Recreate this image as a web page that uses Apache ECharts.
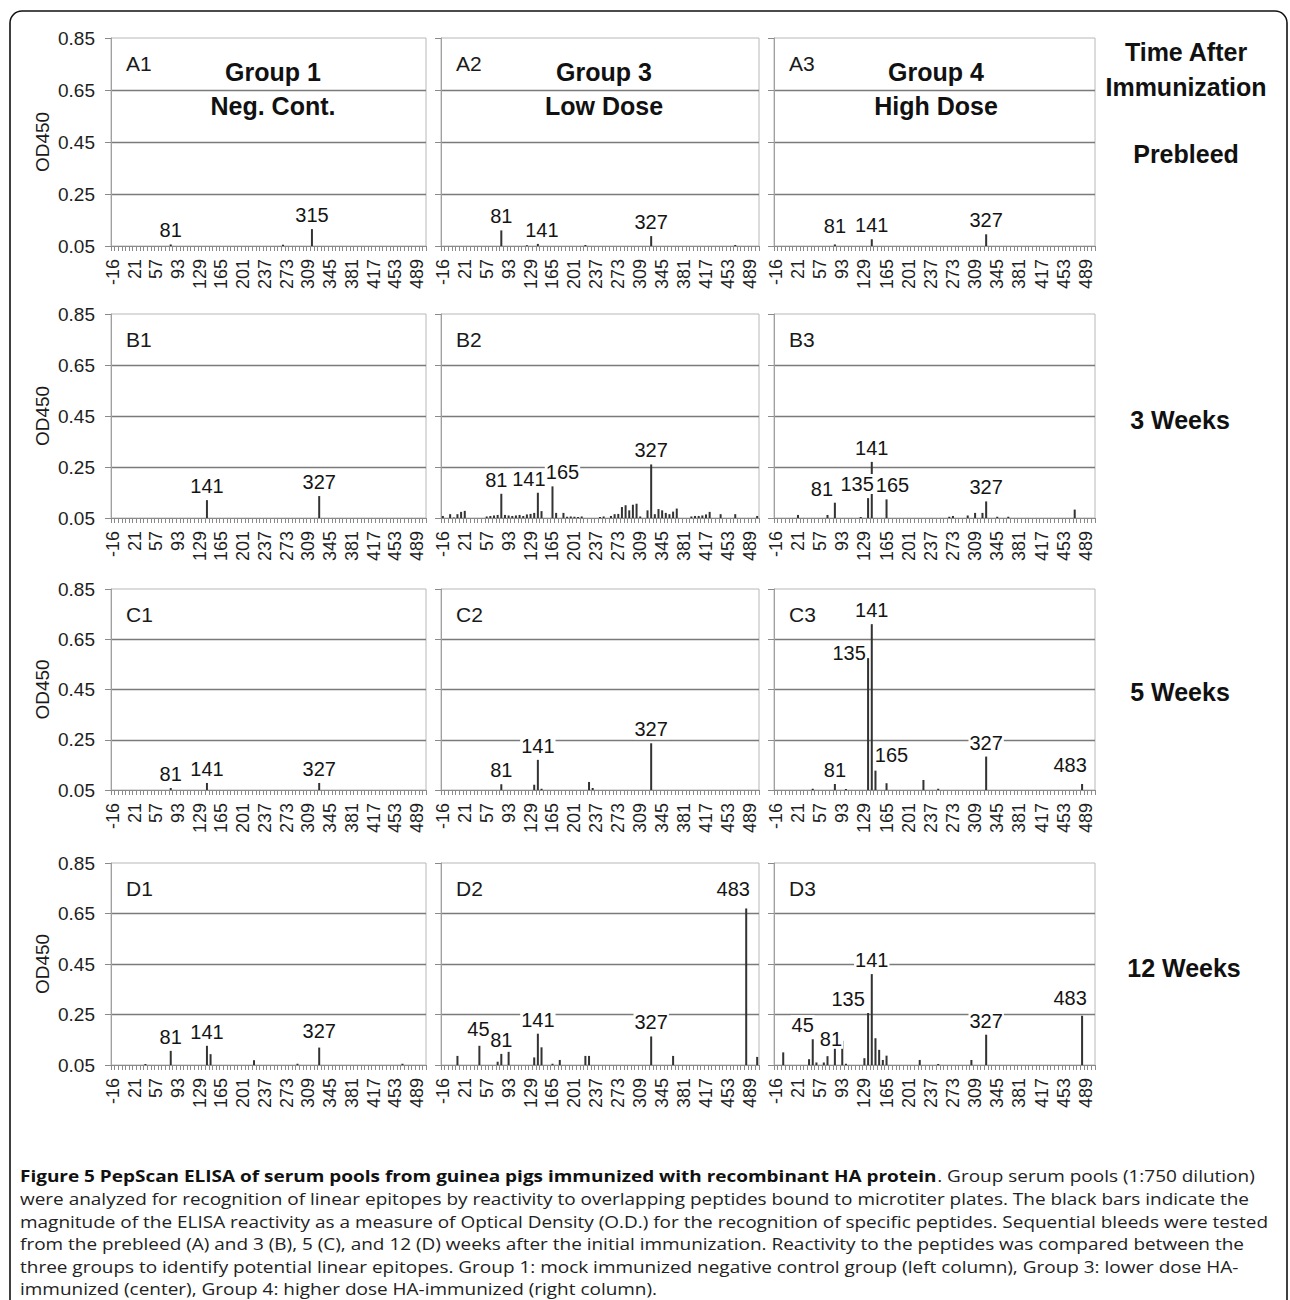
<!DOCTYPE html>
<html><head><meta charset="utf-8">
<script src="https://cdn.jsdelivr.net/npm/echarts@6/dist/echarts.min.js"></script>
<style>html,body{margin:0;padding:0;background:#fff}#c{width:1290px;height:1300px}</style>
</head><body><div id="c"></div>
<script>
// Peptide start positions (x categories)
const positions = [-16,-10,-4,3,9,15,21,27,33,39,45,51,57,63,69,75,81,87,93,99,105,111,117,123,129,135,141,147,153,159,165,171,177,183,189,195,201,207,213,219,225,231,237,243,249,255,261,267,273,279,285,291,297,303,309,315,321,327,333,339,345,351,357,363,369,375,381,387,393,399,405,411,417,423,429,435,441,447,453,459,465,471,477,483,489,495,501];
const yTicks = [0.05,0.25,0.45,0.65,0.85];

// OD450 values per panel (87 peptides each)
const valsA1 = [
.05,.05,.05,.05,.05,.05,.05,.05,.05,.05,
.05,.05,.05,.05,.05,.05,.056,.05,.05,.05,
.05,.05,.05,.05,.05,.05,.05,.05,.05,.05,
.05,.05,.05,.05,.05,.05,.05,.05,.05,.05,
.05,.05,.05,.05,.05,.05,.05,.055,.05,.05,
.05,.05,.05,.05,.05,.115,.05,.05,.05,.05,
.05,.05,.05,.05,.05,.05,.05,.05,.05,.05,
.05,.05,.05,.05,.05,.05,.05,.05,.05,.05,
.05,.05,.05,.05,.05,.05,.05];
const valsA2 = [
.05,.05,.05,.05,.05,.05,.05,.05,.05,.05,
.05,.05,.05,.05,.05,.05,.11,.05,.05,.05,
.05,.05,.05,.053,.05,.05,.058,.05,.05,.05,
.05,.05,.05,.05,.05,.05,.05,.05,.05,.054,
.05,.05,.05,.05,.05,.05,.05,.05,.05,.05,
.05,.05,.05,.05,.05,.05,.05,.088,.05,.05,
.05,.05,.05,.05,.05,.05,.05,.05,.05,.05,
.05,.05,.05,.05,.05,.05,.05,.05,.05,.05,
.054,.05,.05,.05,.05,.05,.05];
const valsA3 = [
.05,.05,.05,.05,.05,.05,.05,.05,.05,.05,
.05,.05,.05,.05,.05,.05,.056,.05,.05,.05,
.05,.05,.05,.05,.05,.05,.076,.05,.05,.05,
.05,.05,.05,.05,.05,.05,.05,.05,.05,.05,
.05,.05,.05,.05,.05,.05,.05,.05,.05,.05,
.05,.05,.05,.05,.05,.05,.05,.095,.05,.05,
.05,.05,.05,.05,.05,.05,.05,.05,.05,.05,
.05,.05,.05,.05,.05,.05,.05,.05,.05,.05,
.05,.05,.05,.05,.05,.05,.05];
const valsB1 = [
.05,.05,.05,.05,.05,.05,.05,.05,.05,.05,
.05,.05,.05,.05,.05,.05,.05,.05,.05,.05,
.05,.05,.05,.05,.05,.05,.12,.05,.05,.05,
.05,.05,.05,.05,.05,.05,.05,.05,.05,.05,
.05,.05,.05,.05,.05,.05,.05,.05,.05,.05,
.05,.05,.05,.05,.05,.05,.05,.136,.05,.05,
.05,.05,.05,.05,.05,.05,.05,.05,.05,.05,
.05,.05,.05,.05,.05,.05,.05,.05,.05,.05,
.05,.05,.05,.05,.05,.05,.05];
const valsB2 = [
.058,.05,.065,.052,.065,.074,.078,.05,.05,.05,
.05,.05,.056,.058,.06,.062,.145,.062,.06,.058,
.06,.062,.058,.064,.066,.07,.149,.077,.05,.05,
.174,.07,.05,.07,.055,.056,.055,.054,.056,.05,
.05,.05,.05,.054,.056,.05,.058,.065,.066,.093,
.1,.08,.102,.106,.056,.05,.08,.26,.065,.085,
.08,.07,.065,.075,.087,.05,.05,.05,.056,.058,
.058,.06,.064,.074,.05,.05,.065,.05,.05,.05,
.065,.05,.05,.05,.05,.05,.058];
const valsB3 = [
.05,.05,.05,.05,.05,.05,.062,.05,.05,.05,
.05,.05,.05,.05,.062,.05,.11,.05,.05,.05,
.05,.05,.05,.054,.05,.128,.27,.05,.05,.05,
.123,.05,.05,.05,.05,.05,.05,.05,.05,.05,
.05,.05,.05,.05,.05,.05,.05,.055,.058,.05,
.05,.05,.06,.05,.07,.05,.07,.115,.05,.05,
.055,.05,.05,.055,.05,.05,.05,.05,.05,.05,
.05,.05,.05,.05,.05,.05,.05,.05,.05,.05,
.05,.083,.05,.05,.05,.05,.05];
const valsC1 = [
.05,.05,.05,.05,.05,.05,.05,.05,.05,.05,
.05,.05,.05,.05,.05,.05,.058,.05,.05,.05,
.05,.05,.05,.05,.05,.05,.078,.05,.05,.05,
.05,.05,.05,.05,.05,.05,.05,.05,.05,.05,
.05,.05,.05,.05,.05,.05,.05,.05,.05,.05,
.05,.05,.05,.05,.05,.05,.05,.078,.05,.05,
.05,.05,.05,.05,.05,.05,.05,.05,.05,.05,
.05,.05,.05,.05,.05,.05,.05,.05,.05,.05,
.05,.05,.05,.05,.05,.05,.05];
const valsC2 = [
.05,.05,.05,.05,.05,.05,.05,.05,.05,.05,
.05,.05,.05,.05,.05,.05,.073,.05,.05,.05,
.05,.05,.05,.05,.05,.071,.17,.055,.05,.05,
.05,.05,.05,.05,.05,.05,.05,.05,.05,.05,
.082,.058,.05,.05,.05,.05,.05,.05,.05,.05,
.05,.05,.05,.05,.05,.05,.05,.236,.05,.05,
.05,.05,.05,.05,.05,.05,.05,.05,.05,.05,
.05,.05,.05,.05,.05,.05,.05,.05,.05,.05,
.05,.05,.05,.05,.05,.05,.05];
const valsC3 = [
.05,.05,.05,.05,.05,.05,.05,.05,.05,.05,
.055,.05,.05,.05,.05,.05,.074,.05,.05,.054,
.05,.05,.05,.05,.05,.575,.71,.127,.05,.05,
.077,.05,.05,.05,.05,.05,.05,.05,.05,.05,
.09,.05,.05,.05,.055,.05,.05,.05,.05,.05,
.05,.05,.05,.05,.05,.05,.05,.183,.05,.05,
.05,.05,.05,.05,.05,.05,.05,.05,.05,.05,
.05,.05,.05,.05,.05,.05,.05,.05,.05,.05,
.05,.05,.05,.074,.05,.05,.05];
const valsD1 = [
.05,.05,.05,.05,.05,.05,.05,.05,.05,.054,
.05,.05,.05,.05,.05,.05,.106,.05,.05,.05,
.05,.05,.05,.05,.05,.05,.126,.093,.05,.05,
.05,.05,.05,.05,.05,.05,.05,.05,.05,.069,
.05,.05,.05,.05,.05,.05,.05,.05,.05,.05,
.05,.055,.05,.05,.05,.05,.05,.119,.05,.05,
.05,.05,.05,.05,.05,.05,.05,.05,.05,.05,
.05,.05,.05,.05,.05,.05,.05,.05,.05,.05,
.055,.05,.05,.05,.05,.05,.05];
const valsD2 = [
.05,.05,.05,.05,.086,.05,.05,.05,.05,.05,
.126,.05,.05,.05,.05,.063,.094,.05,.102,.05,
.05,.05,.05,.05,.05,.08,.174,.12,.05,.05,
.055,.05,.07,.05,.05,.05,.05,.05,.05,.086,
.086,.05,.05,.05,.05,.05,.05,.05,.05,.05,
.05,.05,.05,.05,.05,.05,.05,.163,.05,.05,
.05,.05,.05,.086,.05,.05,.05,.05,.05,.05,
.05,.05,.05,.05,.05,.05,.05,.05,.05,.05,
.05,.05,.05,.67,.05,.05,.082];
const valsD3 = [
.05,.05,.1,.05,.05,.05,.05,.05,.05,.073,
.152,.06,.05,.06,.085,.05,.13,.05,.146,.055,
.05,.05,.05,.05,.077,.256,.41,.156,.11,.07,
.087,.05,.05,.05,.05,.05,.05,.05,.05,.07,
.05,.05,.05,.05,.054,.05,.05,.05,.05,.05,
.05,.05,.05,.07,.05,.05,.05,.17,.05,.05,
.05,.05,.05,.05,.05,.05,.05,.05,.05,.05,
.05,.05,.05,.05,.05,.05,.05,.05,.05,.05,
.05,.05,.05,.245,.05,.05,.05];

// peptides annotated in each panel
const labelsA1 = [81,315];
const labelsA2 = [81,141,327];
const labelsA3 = [81,141,327];
const labelsB1 = [141,327];
const labelsB2 = [81,141,165,327];
const labelsB3 = [81,135,141,165,327];
const labelsC1 = [81,141,327];
const labelsC2 = [81,141,327];
const labelsC3 = [81,135,141,165,327,483];
const labelsD1 = [81,141,327];
const labelsD2 = [45,81,141,327,483];
const labelsD3 = [45,81,135,141,327,483];

const groupTitles = [['Group 1','Neg. Cont.'],['Group 3','Low Dose'],['Group 4','High Dose']];
const timeLabels = ['Prebleed','3 Weeks','5 Weeks','12 Weeks'];
const captionLines = [
 '{b|Figure 5 PepScan ELISA of serum pools from guinea pigs immunized with recombinant HA protein}{r|. Group serum pools (1:750 dilution)}',
 'were analyzed for recognition of linear epitopes by reactivity to overlapping peptides bound to microtiter plates. The black bars indicate the',
 'magnitude of the ELISA reactivity as a measure of Optical Density (O.D.) for the recognition of specific peptides. Sequential bleeds were tested',
 'from the prebleed (A) and 3 (B), 5 (C), and 12 (D) weeks after the initial immunization. Reactivity to the peptides was compared between the',
 'three groups to identify potential linear epitopes. Group 1: mock immunized negative control group (left column), Group 3: lower dose HA-',
 'immunized (center), Group 4: higher dose HA-immunized (right column).'
];

// ---------- layout / style (not data) ----------
const FONT = "'Liberation Sans', Arial, sans-serif";
const rowsY = [[38,246],[314,518],[589,790],[863,1065]];
const colsX = [[111,426],[441,759],[774,1095]];
const labelNudge = {
  A2:{141:[4,0]}, A3:{81:[0,-4]},
  B2:{81:[-5,0],141:[-9,0],165:[10,0]},
  B3:{81:[-13,0],135:[-11,0],165:[6,0]},
  C3:{135:[-19,9],165:[5,-14],483:[-12,-5]},
  D1:{327:[0,-3]},
  D2:{45:[-1,-3],483:[-13,-5]},
  D3:{45:[-10,0],81:[-4,8],135:[-20,0],483:[-12,-4]}
};

const panels = [
 ['A1',valsA1,labelsA1],['A2',valsA2,labelsA2],['A3',valsA3,labelsA3],
 ['B1',valsB1,labelsB1],['B2',valsB2,labelsB2],['B3',valsB3,labelsB3],
 ['C1',valsC1,labelsC1],['C2',valsC2,labelsC2],['C3',valsC3,labelsC3],
 ['D1',valsD1,labelsD1],['D2',valsD2,labelsD2],['D3',valsD3,labelsD3]
];

const grid=[], xAxis=[], yAxis=[], series=[], graphic=[];
panels.forEach(([id, vals, labs], i) => {
  if (vals.length !== positions.length) throw new Error(id+' has '+vals.length+' values');
  const r = Math.floor(i/3), c = i%3;
  const [x0,x1] = colsX[c], [y0,y1] = rowsY[r];
  grid.push({left:x0, top:y0, width:x1-x0, height:y1-y0, show:true, borderColor:'#b8b8b8', borderWidth:1, containLabel:false, outerBoundsMode:'none'});
  xAxis.push({type:'category', gridIndex:i, data:positions.map(String), boundaryGap:true,
    axisLine:{show:true, lineStyle:{color:'#8a8a8a', width:1}},
    axisTick:{show:true, interval:0, length:5, lineStyle:{color:'#8a8a8a'}},
    axisLabel:{show:true, interval:5, rotate:90, margin:13, fontSize:18, color:'#1e1e1e', fontFamily:FONT, hideOverlap:false},
    splitLine:{show:false}});
  yAxis.push({type:'value', gridIndex:i, min:0.05, max:0.85, interval:0.2,
    axisLine:{show:true, lineStyle:{color:'#a0a0a0'}},
    axisTick:{show:true, length:6, lineStyle:{color:'#8a8a8a'}},
    axisLabel:{show:c===0, margin:16, fontSize:19, color:'#1e1e1e', fontFamily:FONT, formatter:v=>v.toFixed(2)},
    splitLine:{show:true, showMaxLine:false, showMinLine:false, lineStyle:{color:'#7a7a7a', width:1.4}}});
  const nudge = labelNudge[id] || {};
  series.push({type:'bar', xAxisIndex:i, yAxisIndex:i, barWidth:'55%', barGap:'0%', silent:true, animation:false,
    itemStyle:{color:'#333'},
    label:{show:false},
    data: vals.map((v,k) => {
      const p = positions[k];
      if (labs.indexOf(p) < 0) return v;
      return {value:v, label:{show:true, position:'top', distance:4, formatter:'{b}', offset:nudge[p]||[0,0],
        fontSize:20, color:'#141414', fontFamily:FONT, backgroundColor:'#fff', padding:[0,1]}};
    })});
  graphic.push({type:'text', x:x0+15, y:y0+25, silent:true,
    style:{text:id, fontSize:21, fontFamily:FONT, fill:'#1a1a1a', align:'left', verticalAlign:'middle', textAlign:'left', textVerticalAlign:'middle'}});
  if (c===0) {
    graphic.push({type:'text', x:42, y:(y0+y1)/2, rotation:Math.PI/2, silent:true,
      style:{text:'OD450', fontSize:19, fontFamily:FONT, fill:'#1a1a1a', align:'center', verticalAlign:'middle', textAlign:'center', textVerticalAlign:'middle'}});
  }
});

const colCenters = [273,604,936];
groupTitles.forEach((t,c) => {
  [[t[0],72],[t[1],106]].forEach(([txt,y]) => graphic.push({type:'text', x:colCenters[c], y:y, silent:true,
    style:{text:txt, fontSize:25, fontWeight:'bold', fontFamily:FONT, fill:'#111', align:'center', verticalAlign:'middle', textAlign:'center', textVerticalAlign:'middle'}}));
});
const rightTexts = [['Time After',1186,52],['Immunization',1186,87],[timeLabels[0],1186,154],[timeLabels[1],1180,420],[timeLabels[2],1180,692],[timeLabels[3],1184,968]];
rightTexts.forEach(([txt,x,y]) => graphic.push({type:'text', x:x, y:y, silent:true,
  style:{text:txt, fontSize:25, fontWeight:'bold', fontFamily:FONT, fill:'#111', align:'center', verticalAlign:'middle', textAlign:'center', textVerticalAlign:'middle'}}));

// caption
const CAP_FONT = "'Open Sans', 'Liberation Sans', sans-serif";
const capSize = 16.5;
const cv = document.createElement('canvas').getContext('2d');
cv.font = capSize+"px 'Open Sans'";
const w3 = cv.measureText(captionLines[2]).width;
const capScale = Math.min(1.15, 1262 / w3);
captionLines.forEach((line, k) => graphic.push({type:'text', x:20, y:1176 + k*22.6, scaleX:capScale, silent:true,
  style:{text:line, fontSize:capSize, fontFamily:CAP_FONT, fill:'#222', align:'left', verticalAlign:'middle', textAlign:'left', textVerticalAlign:'middle',
    rich:{b:{fontWeight:'bold', fontSize:capSize, fontFamily:CAP_FONT, fill:'#111'}, r:{fontSize:capSize, fontFamily:CAP_FONT, fill:'#222'}}}}));

graphic.push({type:'rect', silent:true, shape:{x:10, y:11, width:1277, height:1310, r:12},
  style:{fill:'none', stroke:'#111', lineWidth:1.6}, z:-1});

const chart = echarts.init(document.getElementById('c'), null, {renderer:'svg'});
chart.setOption({animation:false, backgroundColor:'#fff', grid, xAxis, yAxis, series, graphic});
</script>
</body></html>
